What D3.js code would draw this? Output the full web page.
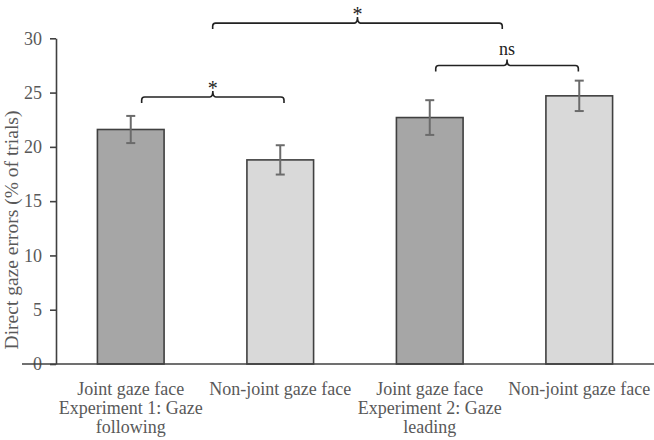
<!DOCTYPE html>
<html>
<head>
<meta charset="utf-8">
<script src="https://cdn.jsdelivr.net/npm/d3@7"></script>
<style>
  body { margin: 0; background: #fff; }
  text { font-family: "Liberation Serif", "Times New Roman", serif; }
</style>
</head>
<body>
<div id="chart"></div>
<script>
var width = 654,
    height = 440;

// data
var categories = [
  ["Joint gaze face", "Experiment 1: Gaze", "following"],
  ["Non-joint gaze face"],
  ["Joint gaze face", "Experiment 2: Gaze", "leading"],
  ["Non-joint gaze face"]
];
var values = [21.6, 18.8, 22.7, 24.7];
var errors = [1.25, 1.35, 1.6, 1.4];
var faceType = ["joint", "nonjoint", "joint", "nonjoint"];
var yTicks = [0, 5, 10, 15, 20, 25, 30];

// significance brackets: from/to in category units, level in % units
var brackets = [
  {from: 0.573, to: 1.525, level: 24.6, label: "*"},
  {from: 1.048, to: 2.985, level: 31.4, label: "*"},
  {from: 2.54,  to: 3.494, level: 27.5, label: "ns"}
];

var fillColor = {joint: "#a6a6a6", nonjoint: "#d9d9d9"};

var margin = {left: 56, top: 38.3, bottom: 76};

var svg = d3.select("#chart").append("svg")
    .attr("width", width)
    .attr("height", height);

var x = d3.scaleBand()
    .domain(d3.range(categories.length))
    .range([margin.left, width])
    .paddingInner(0.554)
    .paddingOuter(0.277);

var xPos = d3.scaleLinear()   // category units -> pixels
    .domain([0, categories.length])
    .range([margin.left, width]);

var y = d3.scaleLinear()
    .domain([0, 30])
    .range([height - margin.bottom, margin.top]);

// bars
svg.selectAll(".bar")
  .data(values).enter().append("rect")
    .attr("class", "bar")
    .attr("x", function(d, i) { return x(i); })
    .attr("y", function(d) { return y(d); })
    .attr("width", x.bandwidth())
    .attr("height", function(d) { return y(0) - y(d); })
    .attr("fill", function(d, i) { return fillColor[faceType[i]]; })
    .attr("stroke", "#404040")
    .attr("stroke-width", 1.6);

// error bars
var eb = svg.selectAll(".err")
  .data(values).enter().append("g")
    .attr("class", "err")
    .attr("stroke", "#6b6b6b")
    .attr("stroke-width", 2);

eb.append("line")
    .attr("x1", function(d, i) { return x(i) + x.bandwidth() / 2; })
    .attr("x2", function(d, i) { return x(i) + x.bandwidth() / 2; })
    .attr("y1", function(d, i) { return y(d + errors[i]); })
    .attr("y2", function(d, i) { return y(d - errors[i]); });

[1, -1].forEach(function(s) {
  eb.append("line")
      .attr("x1", function(d, i) { return x(i) + x.bandwidth() / 2 - 4.5; })
      .attr("x2", function(d, i) { return x(i) + x.bandwidth() / 2 + 4.5; })
      .attr("y1", function(d, i) { return y(d + s * errors[i]); })
      .attr("y2", function(d, i) { return y(d + s * errors[i]); });
});

// y axis
var yAxis = svg.append("g")
    .attr("transform", "translate(" + margin.left + ",0)")
    .call(d3.axisLeft(y).tickValues(yTicks).tickSize(6).tickSizeOuter(0).tickPadding(8));
yAxis.select(".domain").attr("stroke", "#404040").attr("stroke-width", 1.6);
yAxis.selectAll(".tick line").attr("stroke", "#404040").attr("stroke-width", 1.6);
yAxis.selectAll(".tick text")
    .attr("fill", "#595959")
    .style("font-size", "18px")
    .style("font-family", "'Liberation Serif', serif");

// x axis line (runs past the y axis to the left)
svg.append("line")
    .attr("x1", 22).attr("x2", width)
    .attr("y1", y(0)).attr("y2", y(0))
    .attr("stroke", "#404040")
    .attr("stroke-width", 1.6);

// category labels
var lab = svg.selectAll(".xlab")
  .data(categories).enter().append("text")
    .attr("class", "xlab")
    .attr("text-anchor", "middle")
    .attr("fill", "#595959")
    .style("font-size", "18px")
    .attr("transform", function(d, i) { return "translate(" + (x(i) + x.bandwidth() / 2) + "," + 395 + ")"; });
lab.selectAll("tspan")
  .data(function(d) { return d; }).enter().append("tspan")
    .attr("x", 0)
    .attr("y", function(d, j) { return j * 19; })
    .text(function(d) { return d; });

// y axis title
svg.append("text")
    .attr("transform", "translate(18," + 230 + ") rotate(-90)")
    .attr("text-anchor", "middle")
    .attr("fill", "#595959")
    .style("font-size", "19.5px")
    .text("Direct gaze errors (% of trials)");

// brackets
function bracketPath(b) {
  var x1 = xPos(b.from), x2 = xPos(b.to), xm = (x1 + x2) / 2,
      yl = y(b.level), r = 3, drop = 6, peak = 6;
  return "M" + x1 + "," + (yl + drop) +
         "L" + x1 + "," + (yl + r) +
         "Q" + x1 + "," + yl + " " + (x1 + r) + "," + yl +
         "L" + (xm - r) + "," + yl +
         "Q" + xm + "," + yl + " " + xm + "," + (yl - peak) +
         "Q" + xm + "," + yl + " " + (xm + r) + "," + yl +
         "L" + (x2 - r) + "," + yl +
         "Q" + x2 + "," + yl + " " + x2 + "," + (yl + r) +
         "L" + x2 + "," + (yl + drop);
}

svg.selectAll(".bracket")
  .data(brackets).enter().append("path")
    .attr("class", "bracket")
    .attr("d", bracketPath)
    .attr("fill", "none")
    .attr("stroke", "#222")
    .attr("stroke-width", 1.6);

svg.selectAll(".sig")
  .data(brackets).enter().append("text")
    .attr("class", "sig")
    .attr("x", function(d) { return (xPos(d.from) + xPos(d.to)) / 2; })
    .attr("y", function(d) { return y(d.level) - (d.label == "ns" ? 10 : 2); })
    .attr("text-anchor", "middle")
    .attr("fill", "#222")
    .style("font-size", function(d) { return d.label == "ns" ? "18px" : "20px"; })
    .text(function(d) { return d.label; });
</script>
</body>
</html>
